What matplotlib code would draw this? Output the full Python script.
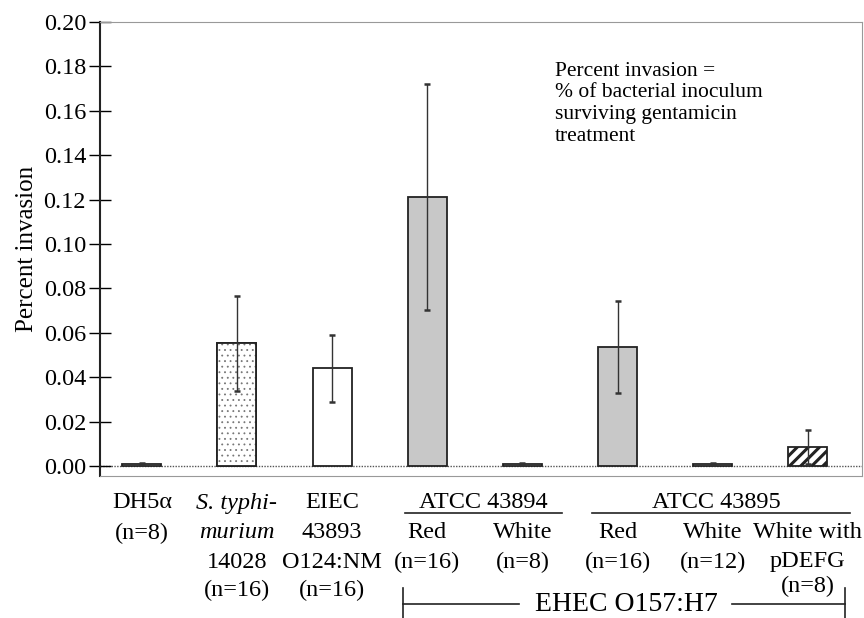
import matplotlib
matplotlib.use("Agg")
import matplotlib.pyplot as plt
from matplotlib.transforms import blended_transform_factory
from matplotlib.lines import Line2D

plt.rcParams['font.family'] = ['Liberation Serif', 'DejaVu Serif']
plt.rcParams['hatch.linewidth'] = 2.2

# ---- data ----
strains = ["DH5α", "S. typhimurium 14028", "EIEC 43893 O124:NM",
           "ATCC 43894 Red", "ATCC 43894 White",
           "ATCC 43895 Red", "ATCC 43895 White", "ATCC 43895 White with pDEFG"]
values = [0.0010, 0.0552, 0.0441, 0.1212, 0.0008, 0.0536, 0.0008, 0.0086]
errors = [0.0005, 0.0214, 0.0151, 0.0510, 0.0004, 0.0207, 0.0004, 0.0076]
yticks = [0.00, 0.02, 0.04, 0.06, 0.08, 0.10, 0.12, 0.14, 0.16, 0.18, 0.20]

labels = [
    ["DH5α", "(n=8)"],
    ["S. typhi-", "murium", "14028", "(n=16)"],
    ["EIEC", "43893", "O124:NM", "(n=16)"],
    ["", "Red", "(n=16)"],
    ["", "White", "(n=8)"],
    ["", "Red", "(n=16)"],
    ["", "White", "(n=12)"],
    ["", "White with", "pDEFG"],
]

# ---- styles ----
faces = ["white", "white", "white", "#c8c8c8", "white", "#c8c8c8", "white", "white"]
hatches = [None, None, None, None, None, None, None, "///"]

W, H = 864, 618
fig = plt.figure(figsize=(W / 100, H / 100), dpi=100)
ax = fig.add_axes([100 / W, 1 - 476 / H, (862 - 100) / W, (476 - 22) / H])

x = list(range(len(values)))
for i in x:
    ax.bar(i, values[i], width=0.41, color=faces[i], edgecolor="#222222",
           linewidth=1.3, hatch=hatches[i], zorder=2)
# stippled fill for S. typhimurium
with plt.rc_context({'hatch.linewidth': 0.6, 'hatch.color': '#777777'}):
    ax.bar(1, values[1], width=0.41, color="white", edgecolor="#777777",
           linewidth=0, hatch="...", zorder=2.1)
ax.bar(1, values[1], width=0.41, color="none", edgecolor="#222222",
       linewidth=1.3, zorder=2.2)

ax.errorbar(x, values, yerr=errors, fmt="none", ecolor="#333333",
            elinewidth=1.0, capsize=2.5, capthick=1.8, zorder=3)

ax.axhline(0, color="#555555", linestyle=(0, (1, 1)), linewidth=1.0, zorder=1)

ax.set_xlim(-0.44, 7.57)
ax.set_ylim(-0.0045, 0.20)
ax.set_xticks([])
ax.set_yticks(yticks)
ax.set_yticklabels([f"{t:.2f}" for t in yticks], fontsize=17.5)
ax.tick_params(axis="y", direction="inout", length=16, width=1.0, pad=2)
for s in ["top", "right", "bottom"]:
    ax.spines[s].set_color("#999999")
    ax.spines[s].set_linewidth(0.8)
ax.spines["left"].set_linewidth(1.5)
ax.spines["left"].set_color("#222222")

ax.set_ylabel("Percent invasion", fontsize=18, labelpad=4)

ax.text(0.597, 0.912, "Percent invasion =\n% of bacterial inoculum\nsurviving gentamicin\ntreatment",
        transform=ax.transAxes, fontsize=15.5, va="top", ha="left", linespacing=1.18)

# ---- category labels below axes ----
tr = blended_transform_factory(ax.transData, fig.transFigure)
row_y = [503, 533, 562, 590]
for i, lines in enumerate(labels):
    for r, txt in enumerate(lines):
        if not txt:
            continue
        style = "italic" if (i == 1 and r < 2) else "normal"
        ax.text(i, 1 - row_y[r] / H, txt, transform=tr, ha="center", va="center",
                fontsize=17.5, fontstyle=style, clip_on=False)

# group headers
ax.text(3.59, 1 - 503 / H, "ATCC 43894", transform=tr, ha="center", va="center", fontsize=17.5)
ax.text(6.04, 1 - 503 / H, "ATCC 43895", transform=tr, ha="center", va="center", fontsize=17.5)
ax.text(7.0, 1 - 586 / H, "(n=8)", transform=tr, ha="center", va="center", fontsize=17.5)

def fx(px):
    return px / W

def fy(py):
    return 1 - py / H

lines = [
    ((405, 562), (513, 513)),
    ((592, 850), (513, 513)),
    ((403, 519), (604, 604)),
    ((732, 845), (604, 604)),
    ((403, 403), (588, 618)),
    ((845, 845), (588, 618)),
]
for xs, ys in lines:
    fig.add_artist(Line2D([fx(xs[0]), fx(xs[1])], [fy(ys[0]), fy(ys[1])],
                          color="#222222", linewidth=1.2))

fig.text(fx(626), fy(611), "EHEC O157:H7", ha="center", va="baseline", fontsize=20)

fig.savefig("out.png", dpi=100)
